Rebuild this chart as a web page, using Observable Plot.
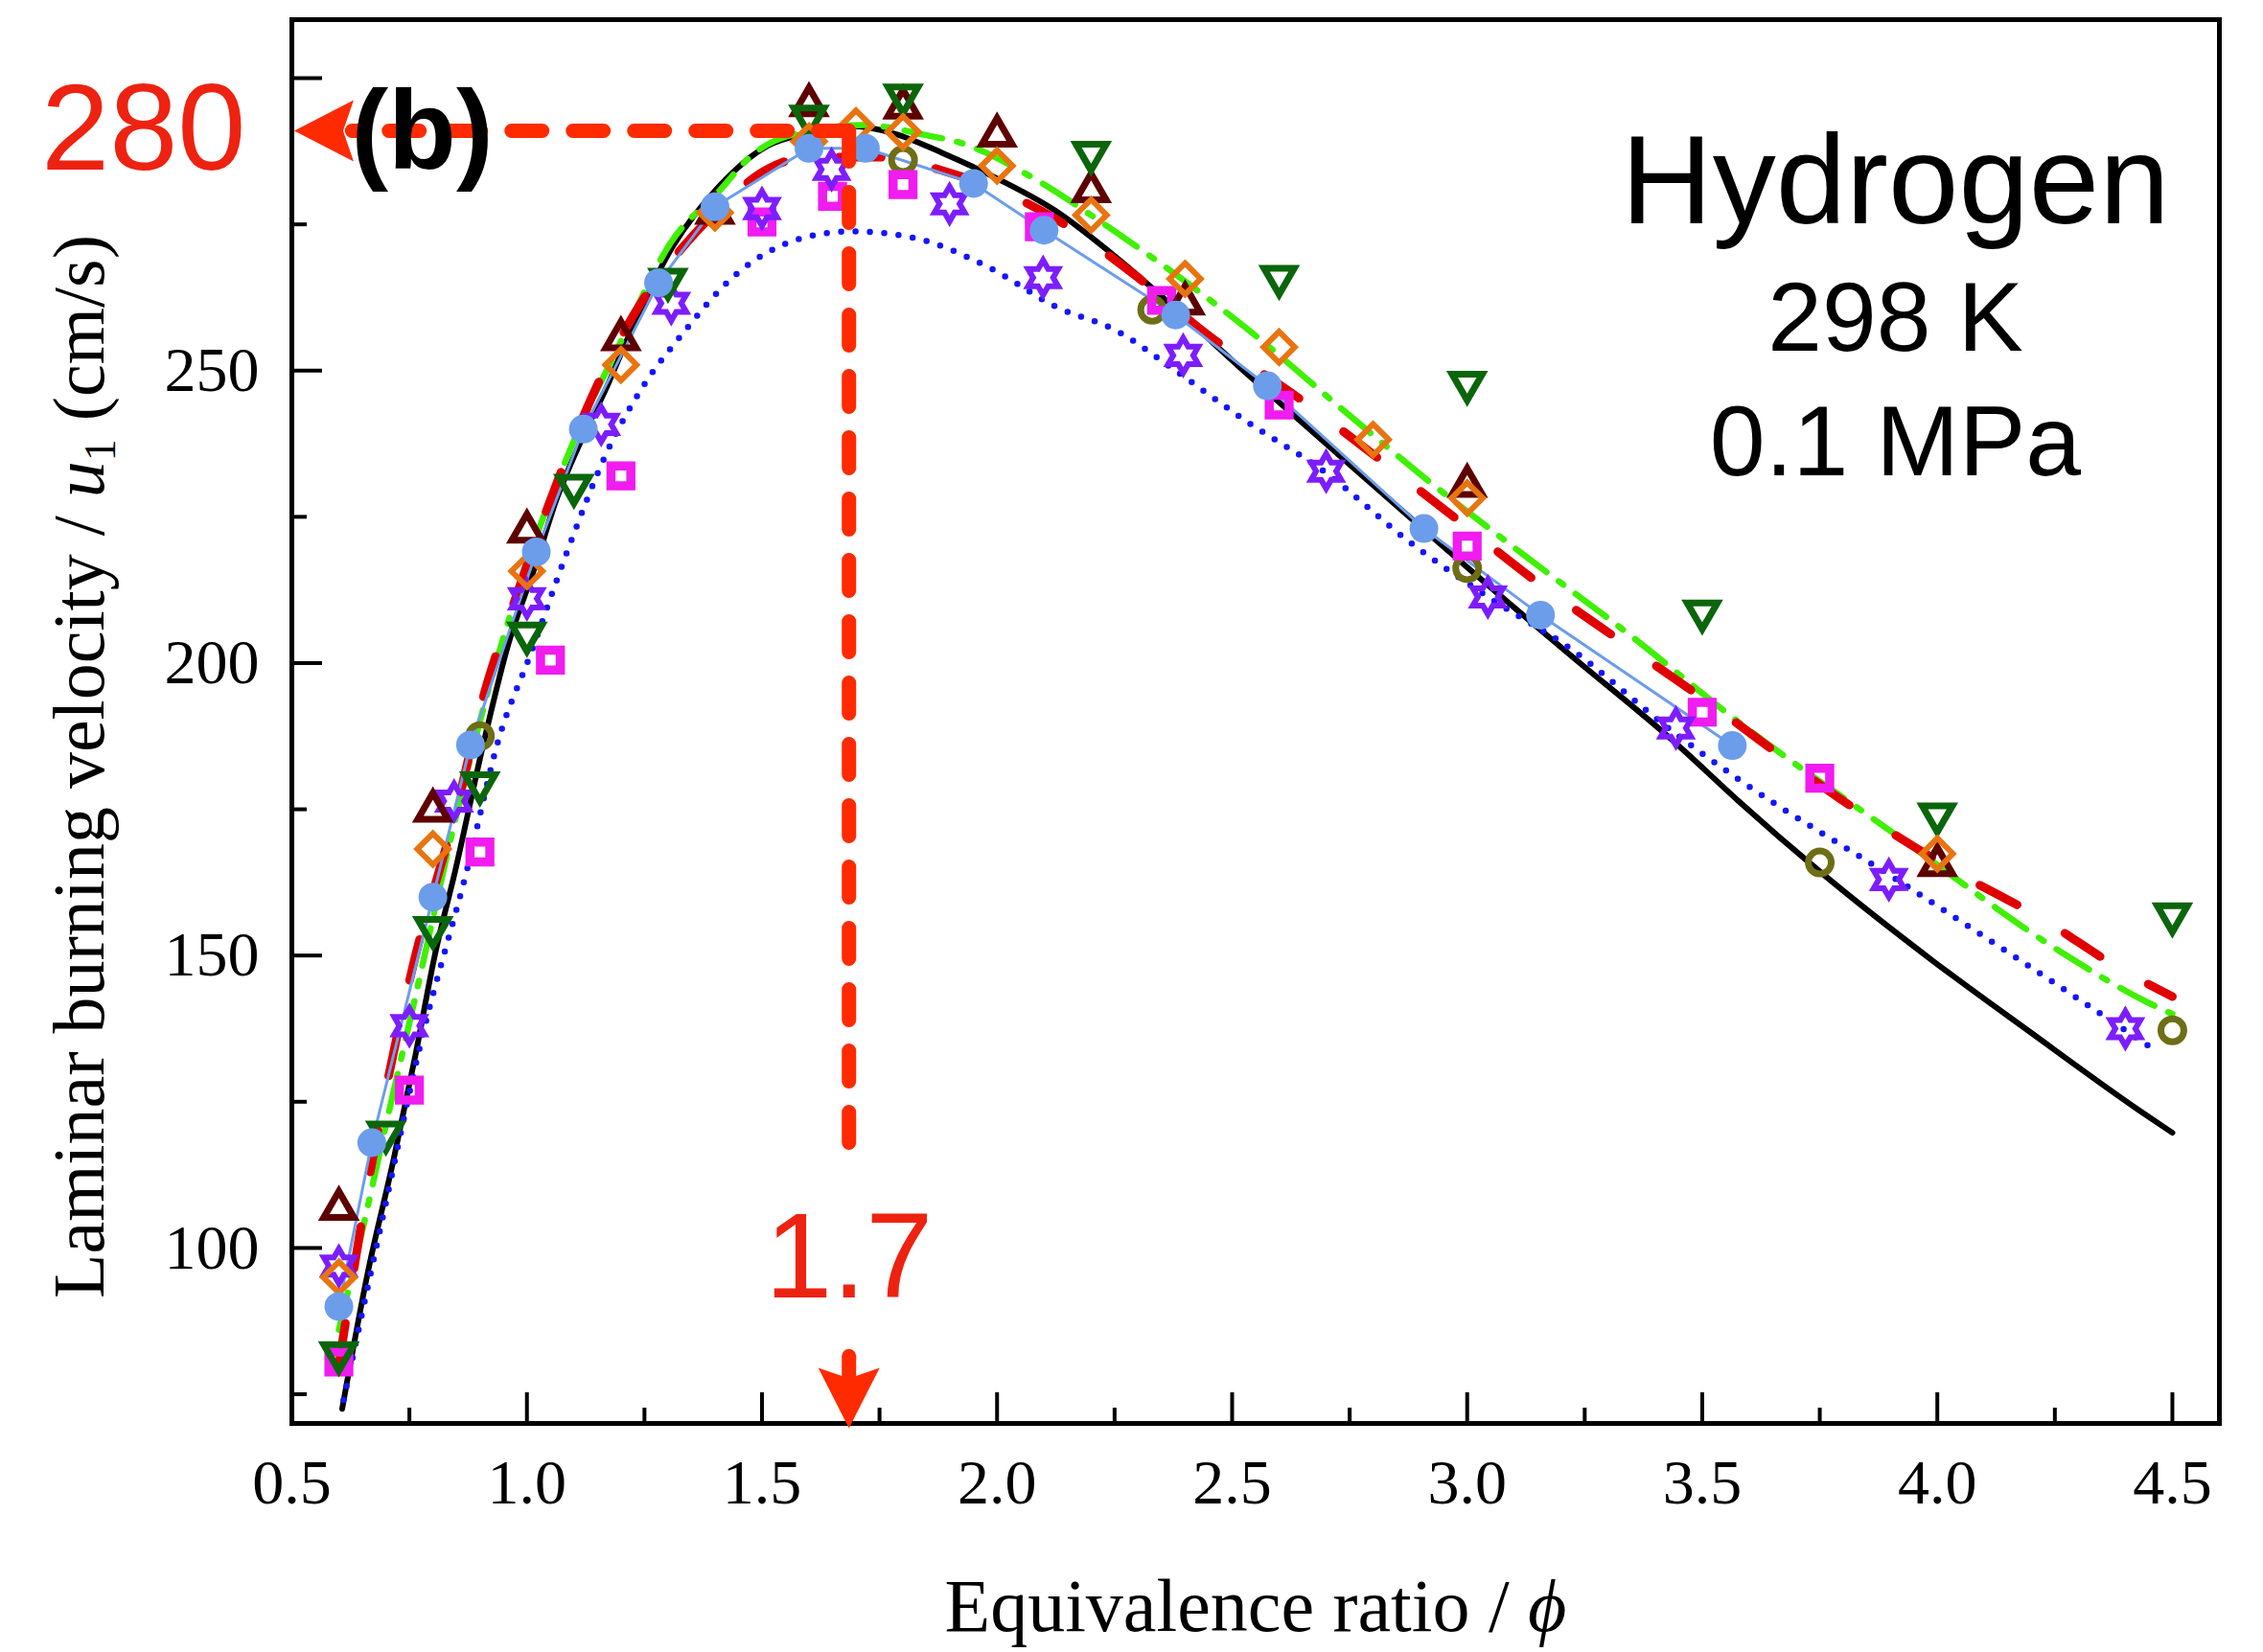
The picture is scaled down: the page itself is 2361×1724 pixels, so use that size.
<!DOCTYPE html>
<html>
<head>
<meta charset="utf-8">
<script src="https://cdn.jsdelivr.net/npm/d3@7"></script>
<script src="https://cdn.jsdelivr.net/npm/@observablehq/plot@0.6"></script>
<style>
  html, body { margin: 0; padding: 0; background: #fff; }
  svg { display: block; }
</style>
</head>
<body>
<script>
// ---------- axis ticks ----------
const xMajorTicks = [0.5, 1.0, 1.5, 2.0, 2.5, 3.0, 3.5, 4.0, 4.5];
const xMinorTicks = [0.75, 1.25, 1.75, 2.25, 2.75, 3.25, 3.75, 4.25];
const yMajorTicks = [100, 150, 200, 250, 300];
const yMinorTicks = [75, 125, 175, 225, 275];
const yLabelledTicks = [100, 150, 200, 250];

// ---------- model curves ----------
const blackPhi = [0.607,0.661,0.716,0.763,0.804,0.849,0.906,0.961,1.016,1.063,1.118,1.17,1.211,1.307,1.403,1.511,1.593,1.689,1.782,1.884,1.986,2.123,2.259,2.367,2.531,2.7,2.912,3.21,3.448,3.576,3.748,3.992,4.196,4.43,4.5];
const blackU   = [72.5,95.6,115,133,150,165,185.7,203.4,216.2,228,238.5,247.2,254.9,270.8,281,288.4,290.5,291.8,290.5,287.2,283.4,277.4,269,261.5,249.5,237.5,222.5,202,186,176.5,164.5,149,137,123.5,119.7];

const redPhi = [0.6,0.669,0.757,0.85,0.91,0.967,1.046,1.13,1.25,1.307,1.4,1.511,1.6,1.742,1.892,2.123,2.292,2.45,2.647,2.822,2.973,3.146,3.322,3.495,3.83,4.046,4.216,4.4,4.5];
const redU   = [80,114,148,175,195,209,227,244,262.5,268.7,277,284.4,286.5,286.5,284,276,266.4,256,245,234.3,224.9,214,204,194.3,174.8,164,156.6,147.2,143];

const limePhi = [0.6,0.65,0.7,0.76,0.85,0.92,1.0,1.1,1.2,1.307,1.409,1.477,1.6,1.715,1.852,1.92,2.09,2.225,2.341,2.531,2.734,2.912,3.122,3.346,3.576,3.923,4.263,4.447,4.5];
const limeU   = [86,103,121,142,174,196,217,238,255,272,280.7,286.7,291,292,290.2,289,282.3,275.2,268.7,257.2,243.4,231.5,218.4,204.8,190,170,150.6,142,140];

const bluePhi = [0.61,0.69,0.777,0.873,0.94,1.008,1.089,1.171,1.252,1.328,1.444,1.579,1.689,1.817,1.986,2.123,2.259,2.367,2.531,2.7,2.871,3.05,3.21,3.45,3.576,3.923,4.4,4.45];
const blueU   = [74,104,136,164.8,187,201.6,219.8,236.2,247.9,256,266.4,272.5,273.8,272.8,267.5,261,256.6,250.7,241.3,232.5,221.1,211,203,187.5,180.2,162.5,137.2,134.5];

// ---------- measurements ----------
const circPhi = [0.6,0.67,0.8,0.88,1.02,1.12,1.28,1.4,1.6,1.72,1.95,2.1,2.38,2.575,2.908,3.156,3.564];
const circU   = [90,118,160,186,219,240,265,278,288,288,282,274,259.5,247.4,223,208.2,185.9];

const triUpPhi = [0.6,0.8,1.0,1.2,1.4,1.6,1.8,2.0,2.2,2.4,3.0,4.0];
const triUpU   = [106.7,174.8,222.5,255.4,277,295.4,295,290.2,280.7,261.5,230.3,165.5];

const diaPhi = [0.6,0.8,1.0,1.2,1.4,1.6,1.7,1.8,2.0,2.2,2.4,2.6,2.8,3.0,4.0];
const diaU   = [95,168.2,215.7,251,277,289.2,291.8,290.8,285,276.6,265.7,254,238.2,228.2,167.4];

const triDnPhi = [0.6,0.7,0.8,0.9,1.0,1.1,1.3,1.6,1.8,2.2,2.6,3.0,3.5,4.0,4.5];
const triDnU   = [82,119.7,154.7,179.4,205,230.3,265.5,293.4,297,287.2,266,247.9,208.8,174.1,157];

const sqPhi = [0.6,0.75,0.9,1.05,1.2,1.5,1.65,1.8,2.09,2.35,2.6,3.0,3.5,3.75];
const sqU   = [80.5,127,167.7,200.5,232,275.4,279.8,281.8,274.6,262,244.1,220,191.6,180.3];

const starPhi = [0.6,0.75,0.845,1.0,1.158,1.307,1.5,1.648,1.899,2.098,2.396,2.7,3.044,3.444,3.897,4.4];
const starU   = [96.9,138,176.4,211,240.8,261.5,277.7,284.4,278.5,265.9,252.6,232.8,211.3,188.9,163,137.5];

const olPhi = [0.9,1.8,2.33,3.0,3.75,4.5];
const olU   = [187.5,286,260.4,216.2,165.9,137.2];

// ---------- annotation ----------
const peakPhi = 1.685, peakU = 291;
const peakLabel = "280", phiLabel = "1.7";
const arrowHPhi = [peakPhi, 0.628], arrowHU = [peakU, peakU];
const arrowVPhi = [peakPhi, peakPhi], arrowVU = [peakU, 117.5];
const stubPhi = [peakPhi, peakPhi], stubU = [81.5, 76];
const headLeft = [{x: 0.505, y: peakU}];
const headDown = [{x: peakPhi, y: 69.2}];

const pts = (xs, ys) => xs.map((x, i) => ({x, y: ys[i]}));

// ---------- custom symbols ----------
const triUpSym = {draw(ctx, size) {
  const R = Math.sqrt(size / Math.PI) * 1.3;
  for (let i = 0; i < 3; i++) {
    const a = -Math.PI / 2 + i * 2 * Math.PI / 3;
    i ? ctx.lineTo(R * Math.cos(a), R * Math.sin(a)) : ctx.moveTo(R * Math.cos(a), R * Math.sin(a));
  }
  ctx.closePath();
}};
const triDnSym = {draw(ctx, size) {
  const R = Math.sqrt(size / Math.PI) * 1.3;
  for (let i = 0; i < 3; i++) {
    const a = Math.PI / 2 + i * 2 * Math.PI / 3;
    i ? ctx.lineTo(R * Math.cos(a), R * Math.sin(a)) : ctx.moveTo(R * Math.cos(a), R * Math.sin(a));
  }
  ctx.closePath();
}};
const diamondSym = {draw(ctx, size) {
  const d = Math.sqrt(size / Math.PI) * 1.3;
  ctx.moveTo(0, -d); ctx.lineTo(d, 0); ctx.lineTo(0, d); ctx.lineTo(-d, 0); ctx.closePath();
}};
const squareSym = {draw(ctx, size) {
  const h = Math.sqrt(size / Math.PI) * 0.9;
  ctx.moveTo(-h, -h); ctx.lineTo(h, -h); ctx.lineTo(h, h); ctx.lineTo(-h, h); ctx.closePath();
}};
const hexagramSym = {draw(ctx, size) {
  const R = Math.sqrt(size / Math.PI) * 1.25, ri = R / Math.sqrt(3);
  for (let i = 0; i < 12; i++) {
    const a = -Math.PI / 2 + i * Math.PI / 6;
    const rad = i % 2 === 0 ? R : ri;
    i ? ctx.lineTo(rad * Math.cos(a), rad * Math.sin(a)) : ctx.moveTo(rad * Math.cos(a), rad * Math.sin(a));
  }
  ctx.closePath();
}};
const arrowLeftSym = {draw(ctx, size) {
  const s = Math.sqrt(size / Math.PI) / 10;
  ctx.moveTo(0, 0); ctx.lineTo(62 * s, -32 * s); ctx.lineTo(51 * s, 0); ctx.lineTo(62 * s, 32 * s); ctx.closePath();
}};
const arrowDownSym = {draw(ctx, size) {
  const s = Math.sqrt(size / Math.PI) / 10;
  ctx.moveTo(0, 0); ctx.lineTo(-32 * s, -63 * s); ctx.lineTo(0, -52 * s); ctx.lineTo(32 * s, -63 * s); ctx.closePath();
}};

const W = 2361, H = 1724;
const mTop = 20, mRight = 46, mBottom = 239, mLeft = 304;
const plotH = H - mTop - mBottom, plotW = W - mLeft - mRight;
const annRed = "#ff2a00", textRed = "#ee2211";
const sans = "'Liberation Sans', Arial, Helvetica, sans-serif";

const chart = Plot.plot({
  width: W, height: H,
  marginTop: mTop, marginRight: mRight, marginBottom: mBottom, marginLeft: mLeft,
  style: {fontFamily: "'Liberation Serif', 'Times New Roman', serif", fontSize: "66px", background: "#fff", color: "#000", overflow: "visible"},
  x: {domain: [0.5, 4.6]},
  y: {domain: [70, 310]},
  marks: [
    // axes: labels and inward ticks
    Plot.axisX(xMajorTicks, {tickSize: 0, tickPadding: 37, tickFormat: d => d.toFixed(1), label: null, fontSize: 66}),
    Plot.axisY(yLabelledTicks, {tickSize: 0, tickPadding: 34, label: null, fontSize: 66}),
    Plot.tickX(xMajorTicks, {x: d => d, insetTop: plotH - 32, stroke: "#000", strokeWidth: 4}),
    Plot.tickX(xMinorTicks, {x: d => d, insetTop: plotH - 16, stroke: "#000", strokeWidth: 4}),
    Plot.tickY(yMajorTicks, {y: d => d, insetRight: plotW - 32, stroke: "#000", strokeWidth: 4}),
    Plot.tickY(yMinorTicks, {y: d => d, insetRight: plotW - 16, stroke: "#000", strokeWidth: 4}),

    // curves
    Plot.line(pts(blackPhi, blackU), {x: "x", y: "y", stroke: "#000", strokeWidth: 6, curve: "monotone-x"}),
    Plot.line(pts(bluePhi, blueU), {x: "x", y: "y", stroke: "#1414ff", strokeWidth: 6.5, strokeDasharray: "0,15", strokeLinecap: "round", curve: "monotone-x"}),
    Plot.line(pts(limePhi, limeU), {x: "x", y: "y", stroke: "#3ff000", strokeWidth: 6.5, strokeDasharray: "40,16,6,16", curve: "monotone-x"}),
    Plot.line(pts(redPhi, redU), {x: "x", y: "y", stroke: "#e00000", strokeWidth: 9, strokeDasharray: "44,58", strokeLinecap: "round", curve: "monotone-x"}),
    Plot.line(pts(circPhi, circU), {x: "x", y: "y", stroke: "#6c9deb", strokeWidth: 3}),

    // measurements
    Plot.dot(pts(olPhi, olU), {x: "x", y: "y", r: 12, stroke: "#6e6e16", strokeWidth: 7, fill: "none"}),
    Plot.dot(pts(sqPhi, sqU), {x: "x", y: "y", r: 11.5, symbol: squareSym, stroke: "#f01cf0", strokeWidth: 9.5, fill: "none"}),
    Plot.dot(pts(starPhi, starU), {x: "x", y: "y", r: 14.5, symbol: hexagramSym, stroke: "#7d1dff", strokeWidth: 6, fill: "none"}),
    Plot.dot(pts(triUpPhi, triUpU), {x: "x", y: "y", r: 14, symbol: triUpSym, stroke: "#5e0000", strokeWidth: 7, fill: "none"}),
    Plot.dot(pts(triDnPhi, triDnU), {x: "x", y: "y", r: 14, symbol: triDnSym, stroke: "#0b660b", strokeWidth: 7, fill: "none"}),
    Plot.dot(pts(diaPhi, diaU), {x: "x", y: "y", r: 12.5, symbol: diamondSym, stroke: "#e87410", strokeWidth: 6, fill: "none"}),
    Plot.dot(pts(circPhi, circU), {x: "x", y: "y", r: 15, fill: "#6c9deb", stroke: "none"}),

    // frame
    Plot.frame({stroke: "#000", strokeWidth: 5}),

    // annotation
    Plot.line(pts(arrowHPhi, arrowHU), {x: "x", y: "y", stroke: annRed, strokeWidth: 15, strokeDasharray: "32,32"}),
    Plot.line(pts(arrowVPhi, arrowVU), {x: "x", y: "y", stroke: annRed, strokeWidth: 15, strokeDasharray: "32,32"}),
    Plot.line(pts(stubPhi, stubU), {x: "x", y: "y", stroke: annRed, strokeWidth: 15}),
    Plot.dot(headLeft, {x: "x", y: "y", r: 10, symbol: arrowLeftSym, fill: annRed, stroke: "none"}),
    Plot.dot(headDown, {x: "x", y: "y", r: 10, symbol: arrowDownSym, fill: annRed, stroke: "none"}),
    Plot.text([peakLabel], {x: () => 0.5, y: () => peakU, dx: -48, text: d => d, textAnchor: "end", lineAnchor: "middle", fontFamily: sans, fontSize: 128, fill: textRed}),
    Plot.text([phiLabel], {x: () => peakPhi, y: () => 70, dy: -132, text: d => d, textAnchor: "middle", lineAnchor: "bottom", fontFamily: sans, fontSize: 126, fill: textRed}),

    // panel texts
    Plot.text(["(b)"], {frameAnchor: "top-left", dx: 136, dy: 155, text: d => d, textAnchor: "middle", lineAnchor: "bottom", fontFamily: sans, fontWeight: "bold", fontSize: 116, fill: "#000"}),
    Plot.text(["Hydrogen"], {frameAnchor: "top-left", dx: 1673, dy: 212, text: d => d, textAnchor: "middle", lineAnchor: "bottom", fontFamily: sans, fontSize: 132, fill: "#000"}),
    Plot.text(["298 K"], {frameAnchor: "top-left", dx: 1673, dy: 345, text: d => d, textAnchor: "middle", lineAnchor: "bottom", fontFamily: sans, fontSize: 102, fill: "#000"}),
    Plot.text(["0.1 MPa"], {frameAnchor: "top-left", dx: 1673, dy: 475, text: d => d, textAnchor: "middle", lineAnchor: "bottom", fontFamily: sans, fontSize: 104, fill: "#000"})
  ]
});

document.body.appendChild(chart);

// axis titles with italic symbol and subscript
const svg = d3.select(chart);
const yLab = svg.append("text")
  .attr("transform", "translate(108,800) rotate(-90)")
  .attr("text-anchor", "middle")
  .attr("font-family", "'Liberation Serif', 'Times New Roman', serif")
  .attr("font-size", 76)
  .attr("fill", "#000");
yLab.append("tspan").text("Laminar burning velocity / ");
yLab.append("tspan").attr("font-style", "italic").text("u");
yLab.append("tspan").attr("font-size", 46).attr("dy", 12).text("1");
yLab.append("tspan").attr("dy", -12).text(" (cm/s)");

const xLab = svg.append("text")
  .attr("transform", "translate(1310,1702)")
  .attr("text-anchor", "middle")
  .attr("font-family", "'Liberation Serif', 'Times New Roman', serif")
  .attr("font-size", 78)
  .attr("fill", "#000");
xLab.append("tspan").text("Equivalence ratio / ");
xLab.append("tspan").attr("font-style", "italic").text("ϕ");
</script>
</body>
</html>
